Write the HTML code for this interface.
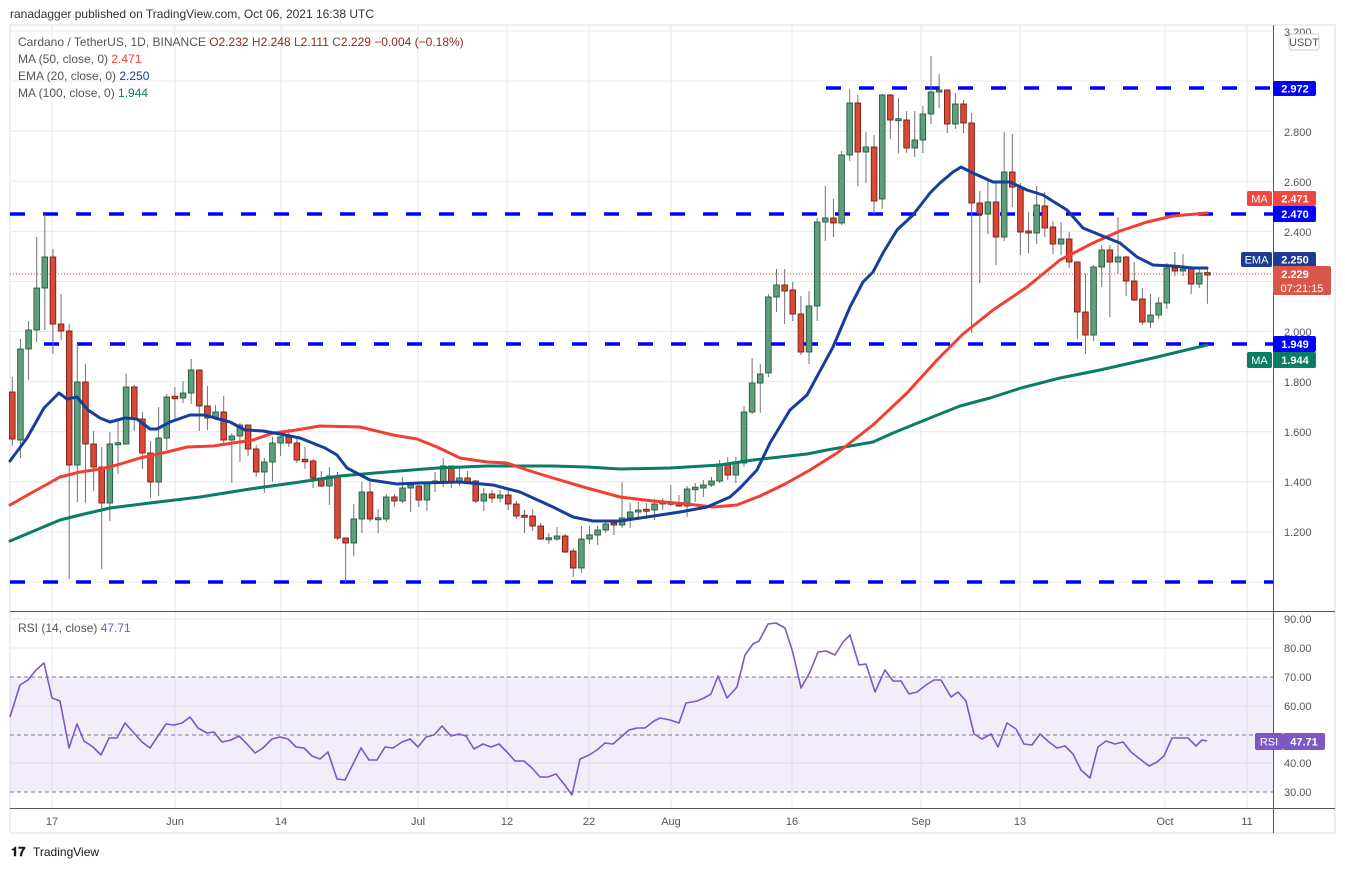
<!DOCTYPE html>
<html><head><meta charset="utf-8"><style>
body{margin:0;background:#fff;width:1345px;height:869px;overflow:hidden;font-family:"Liberation Sans",sans-serif;}
svg{position:absolute;left:0;top:0}
text{font-family:"Liberation Sans",sans-serif}
</style></head><body>
<svg id="s" width="1345" height="869" xmlns="http://www.w3.org/2000/svg">
<rect x="10" y="25" width="1325" height="808" fill="#fff" stroke="#eeeef2" stroke-width="2"/>
<g id="grid" stroke="#e9e9ec" stroke-width="1"></g>
<rect x="10" y="677" width="1263" height="115" fill="#7e57c2" fill-opacity="0.1"/>
<g stroke="#787b86" stroke-dasharray="4,3" stroke-width="1">
<line x1="10" x2="1273" y1="677" y2="677"/><line x1="10" x2="1273" y1="735" y2="735"/><line x1="10" x2="1273" y1="792" y2="792"/>
</g>
<line x1="10" x2="1273" y1="274" y2="274" stroke="#e04c3c" stroke-dasharray="1,2" stroke-width="1"/>
<g stroke="#0000ff" stroke-width="3.5" stroke-dasharray="15,18">
<line x1="826" x2="1273" y1="88" y2="88"/>
<line x1="10" x2="1273" y1="214" y2="214"/>
<line x1="44" x2="1273" y1="344" y2="344"/>
<line x1="10" x2="1273" y1="582" y2="582"/>
</g>
<g id="candles"></g>
<g id="lines" fill="none" stroke-width="3" stroke-linejoin="round" stroke-linecap="round"></g>
<polyline id="rsi" fill="none" stroke="#7e57c2" stroke-width="1.6" stroke-linejoin="round"/>
<line x1="10" x2="1335" y1="611.5" y2="611.5" stroke="#555" stroke-width="1"/>
<line x1="10" x2="1335" y1="808.5" y2="808.5" stroke="#555" stroke-width="1"/>
<line x1="1273.5" x2="1273.5" y1="25" y2="833" stroke="#555" stroke-width="1"/>
<g font-size="11" fill="#555" text-anchor="start">
<text x="1284" y="36">3.200</text><text x="1284" y="136">2.800</text><text x="1284" y="186">2.600</text>
<text x="1284" y="236">2.400</text><text x="1284" y="336">2.000</text><text x="1284" y="386">1.800</text>
<text x="1284" y="436">1.600</text><text x="1284" y="486">1.400</text><text x="1284" y="536">1.200</text>
<text x="1284" y="623">90.00</text><text x="1284" y="652">80.00</text><text x="1284" y="681">70.00</text>
<text x="1284" y="710">60.00</text><text x="1284" y="767">40.00</text><text x="1284" y="796">30.00</text>
</g>
<rect x="1289" y="34" width="30" height="16" rx="3" fill="#fff" stroke="#ccc"/>
<text x="1304" y="46" font-size="11" fill="#555" text-anchor="middle">USDT</text>
<g font-size="11" font-weight="bold" fill="#fff" text-anchor="middle">
<rect x="1273" y="81" width="43" height="15" rx="2" fill="#0000ff"/><text x="1295" y="92.5">2.972</text>
<rect x="1247" y="191" width="25" height="15" rx="2" fill="#f0483c"/><text x="1259.5" y="202.5" font-weight="normal">MA</text>
<rect x="1273" y="191" width="43" height="15" rx="2" fill="#f0483c"/><text x="1295" y="202.5">2.471</text>
<rect x="1273" y="206" width="43" height="16" rx="2" fill="#0000ff"/><text x="1295" y="218">2.470</text>
<rect x="1241" y="252" width="31" height="15" rx="2" fill="#1c3b94"/><text x="1256.5" y="263.5" font-weight="normal">EMA</text>
<rect x="1273" y="252" width="43" height="15" rx="2" fill="#1c3b94"/><text x="1295" y="263.5">2.250</text>
<rect x="1273" y="266" width="58" height="29" rx="2" fill="#d9574a"/><text x="1295" y="278">2.229</text>
<text x="1302" y="292" font-weight="normal">07:21:15</text>
<rect x="1273" y="336" width="43" height="16" rx="2" fill="#0000ff"/><text x="1295" y="348">1.949</text>
<rect x="1247" y="352" width="25" height="16" rx="2" fill="#0a7d66"/><text x="1259.5" y="364" font-weight="normal">MA</text>
<rect x="1273" y="352" width="43" height="16" rx="2" fill="#0a7d66"/><text x="1295" y="364">1.944</text>
<rect x="1255" y="733" width="28" height="17" rx="2" fill="#7e57c2"/><text x="1269" y="745.5" font-weight="normal">RSI</text>
<rect x="1283" y="733" width="42" height="17" rx="2" fill="#7e57c2"/><text x="1304" y="745.5">47.71</text>
</g>
<g font-size="11" fill="#555" text-anchor="middle">
<text x="52" y="825">17</text><text x="175" y="825">Jun</text><text x="281" y="825">14</text><text x="418" y="825">Jul</text>
<text x="507" y="825">12</text><text x="589" y="825">22</text><text x="671" y="825">Aug</text><text x="792" y="825">16</text>
<text x="921" y="825">Sep</text><text x="1020" y="825">13</text><text x="1165" y="825">Oct</text><text x="1247" y="825">11</text>
</g>
<text x="10" y="18" font-size="12" fill="#333">ranadagger published on TradingView.com, Oct 06, 2021 16:38 UTC</text>
<g font-size="12" fill="#555">
<text x="18" y="46">Cardano / TetherUS, 1D, BINANCE <tspan fill="#8a2a20">O2.232</tspan> <tspan fill="#555">H</tspan><tspan fill="#8a2a20">2.248</tspan> L<tspan fill="#8a2a20">2.111</tspan> C<tspan fill="#8a2a20">2.229</tspan> <tspan fill="#8a2a20">−0.004 (−0.18%)</tspan></text>
<text x="18" y="63">MA (50, close, 0) <tspan fill="#f23f33">2.471</tspan></text>
<text x="18" y="80">EMA (20, close, 0) <tspan fill="#1c3b94">2.250</tspan></text>
<text x="18" y="97">MA (100, close, 0) <tspan fill="#0a7d66">1.944</tspan></text>
<text x="18" y="632">RSI (14, close) <tspan fill="#7e57c2">47.71</tspan></text>
</g>
<text x="11" y="856" font-size="13" font-weight="bold" fill="#131722">𝟏𝟕</text>
<text x="33" y="856" font-size="12" fill="#131722">TradingView</text>
</svg>
<script>
var NS="http://www.w3.org/2000/svg";
function el(p,t,a){var e=document.createElementNS(NS,t);for(var k in a)e.setAttribute(k,a[k]);p.appendChild(e);return e;}
var g=document.getElementById('grid');
for(var y=31;y<=583;y+=50.09){el(g,'line',{x1:10,x2:1273,y1:y,y2:y});}
[619,648,706,763].forEach(function(y){el(g,'line',{x1:10,x2:1273,y1:y,y2:y});});
[52,175,281,418,507,589,671,792,921,1020,1165,1247].forEach(function(x){el(g,'line',{x1:x,x2:x,y1:26,y2:808});});
var C=[[392,377,446,439],[440,339,458,349],[349,321,380,330],[330,237,342,288],[288,214,330,257],[257,249,354,324],[324,294,340,331],[331,324,579,465],[465,344,502,382],[382,364,503,444],[444,431,491,467],[467,447,569,503],[503,432,521,444],[444,418,474,443.5],[444,374,444,387],[387,385,431,419],[419,412,469,453],[453,441,498,482],[482,407,496,438],[438,394,450,397],[397,387,419,398],[398,381,403,393],[393,359,404,370],[370,370,431,406],[406,386,430,418],[418,405,420,412],[412,396,445,440],[440,433,483,436],[436,423,462,425],[425,425,456,449],[449,445,477,472],[472,458,493,462],[462,437,482,443],[443,436,456,437],[437,429,447,443],[443,438,463,460],[460,447,469,461],[461,459,488,478],[478,471,487,486],[486,467,505,476],[476,472,540,538],
[538,538,583,543],[543,504,556,519],[519,482,533,492],[492,482,522,519],[519,509,533,518.5],[519,494,522,497],[497,494,507,501],[501,477,503,488],[488,482,512,485],[486,485,507,500],[500,483,511,483],[483,472,492,481],[482,458,487,466],[466,466,488,482],[482,467,486,478],[478,471,483,482],[481,480,503,501],[501,488,511,494],[494,490,503,498],[498,490,502,495],[495,490,510,504],[504,501,519,516],[516,510,533,516.5],[516,509,531,526],[526,523,540,539],[539,533,544,538.5],[539,527,541,536],[536,534,553,552],[551,548,577,568],[568,526,573,539],[539,526,544,535],[535,526,545,530],[530,521,533,524],[523,522,535,525],[525,482,528,518],[518,503,528,512],[512,502,520,510],[510,503,519,510.5],[510,499,520,504],[504,498,510,502],[503,485,506,503.5],[503,495,507,506],[506,486,517,489],[489,483,502,488],[488,480,497,485],[485,477,487,481],[481,460,483,464],[464,457,480,475],[475,457,483,463],
[463,406,467,412],[412,358,414,383],[383,364,413,374],[373,294,377,297],[297,269,312,285],[285,269,324,291],[290,282,321,314],[314,296,355,352],[352,291,364,306],[306,218,321,222],[222,186,241,218],[218,199,237,223],[223,151,225,155],[155,89,161,103],[103,95,186,152],[152,132,183,147],[147,135,214,201],[199,94,209,95],[95,94,139,120],[120,98,153,119.5],[120,111,153,148],[148,111,157,140],[140,106,153,114],[114,56,124,92],[92,74,108,90],[90,90,133,124],[124,93,129,104],[104,100,133,123],[123,113,333,203],[203,191,283,214],[214,178,234,202],
[202,183,265,237],[237,132,241,172],[172,134,207,187],[187,183,255,232],[231,212,253,233],[233,186,244,205],[206,192,237,228],[227,221,254,244],[244,222,255,239],[239,232,268,262],[262,262,339,312],[312,274,354,335],[335,265,341,267],[267,245,287,250],[250,245,317,262],[262,217,274,257],[257,256,296,281],[281,262,301,300],[299,288,325,322],[322,294,328,315],[315,297,319,303],[303,263,309,268],[268,252,276,271],[271,254,276,269],[269,268,294,284],[284,268,288,273],[273.4,269.4,303.8,274.2]];
var cg=document.getElementById('candles');
C.forEach(function(c,i){var x=12.3+8.13*i,o=c[0],h=c[1],l=c[2],cl=c[3];var up=cl<=o;
 el(cg,'line',{x1:x,x2:x,y1:h,y2:l,stroke:'#737375','stroke-width':1});
 var t=Math.min(o,cl),b=Math.max(o,cl);if(b-t<1.5){t-=0.75;b+=0.75;}
 el(cg,'rect',{x:x-2.8,y:t,width:5.6,height:b-t,fill:up?'#5f9e7c':'#d84a38',stroke:up?'#225b3c':'#7a1c12','stroke-width':0.9});
});
var L=document.getElementById('lines');
function pl(pts,col){el(L,'polyline',{points:pts.map(function(p){return p.join(',')}).join(' '),stroke:col});}
pl([[10,541],[60,520],[80,515],[110,508],[150,503],[200,497],[250,489],[300,482],[340,476],[387,472],[437,468],[487,466],[553,466],[587,467],[620,469],[670,468],[720,465],[753,460],[807,454],[827,450],[873,442],[893,433],[930,418],[960,406],[990,398],[1021,388],[1060,378],[1100,370],[1153,358],[1207,345]],'#0a7d66');
pl([[10,505],[33,492],[60,477],[80,472],[100,469],[117,465],[140,458],[167,452],[187,447],[213,446],[233,443],[253,440],[273,433],[290,431],[320,426],[360,427],[393,435],[417,439],[437,447],[460,458],[487,462],[507,463],[527,470],[553,478],[587,488],[620,497],[653,501],[687,504],[713,507],[737,505],[760,496],[785,484],[810,470],[837,453],[873,425],[907,393],[937,360],[963,334],[993,310],[1027,287],[1060,260],[1093,243],[1120,231],[1147,222],[1173,216],[1207,213]],'#f23f33');
pl([[10,461],[27,438],[44,408],[59,393],[67,399],[77,397],[88,410],[100,418],[110,422],[125,418],[137,419],[150,429],[157,429],[170,422],[190,415],[205,415],[215,418],[230,422],[245,430],[263,431],[280,434],[300,438],[315,444],[325,448],[337,455],[347,468],[370,480],[397,484],[420,483],[460,482],[493,485],[520,492],[553,507],[573,517],[593,521],[620,521],[647,517],[680,512],[707,507],[730,497],[740,488],[757,470],[770,443],[790,410],[807,395],[833,347],[850,307],[863,282],[873,272],[883,253],[897,230],[913,215],[930,193],[940,183],[953,172],[961,167],[973,173],[993,182],[1010,182],[1027,190],[1043,195],[1067,210],[1083,228],[1100,235],[1120,243],[1137,257],[1153,265],[1173,266],[1193,268],[1207,268]],'#163e9c');
var R=[[10,717],[20,685],[28,680],[36,670],[44,663],[52,698],[60,701],[69,748],[77,724],[84,741],[93,747],[101,755],[109,738],[117,738],[125,723],[134,733],[142,742],[150,748],[158,736],[166,724],[174,725],[182,723],[190,717],[198,728],[207,733],[214,732],[222,742],[231,740],[239,736],[247,744],[255,753],[263,748],[272,739],[280,737],[288,739],[296,747],[304,748],[312,756],[320,759],[328,752],[337,779],[345,780],[353,764],[361,748],[369,760],[377,760],[385,747],[393,748],[402,742],[410,739],[418,747],[426,737],[434,735],[442,726],[451,736],[459,734],[466,736],[474,749],[483,744],[491,747],[499,744],[507,752],[515,761],[524,761],[532,768],[540,777],[548,777],[556,774],[564,784],[572,795],[580,759],[589,755],[597,750],[605,743],[613,744],[621,737],[629,730],[637,728],[645,728],[654,721],[660,718],[670,720],[679,723],[686,703],[697,701],[704,698],[711,694],[718,676],[727,698],[737,687],[745,655],[753,644],[759,641],[768,624],[776,623],[785,628],[793,653],[801,688],[810,672],[818,652],[826,651],[835,655],[843,642],[850,635],[859,665],[866,664],[875,692],[885,670],[893,681],[901,681],[909,694],[917,692],[926,685],[934,680],[941,680],[951,697],[958,692],[966,701],[974,734],[982,739],[991,734],[998,747],[1007,723],[1016,729],[1024,744],[1032,745],[1040,734],[1049,742],[1057,748],[1065,746],[1073,754],[1081,770],[1090,778],[1098,747],[1106,741],[1115,744],[1123,742],[1131,752],[1140,759],[1149,766],[1157,762],[1164,756],[1172,738],[1180,738],[1188,738],[1196,746],[1202,740],[1207,741]];
document.getElementById('rsi').setAttribute('points',R.map(function(p){return p.join(',')}).join(' '));
</script>
</body></html>
